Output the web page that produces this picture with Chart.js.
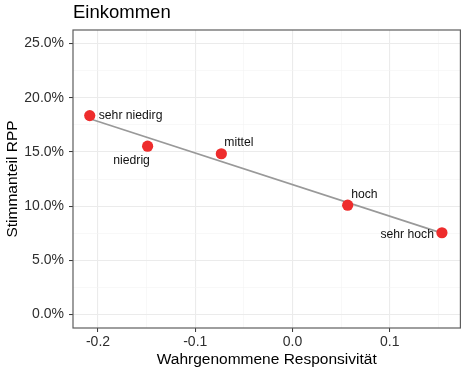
<!DOCTYPE html>
<html>
<head>
<meta charset="UTF-8">
<title>Einkommen</title>
<script src="https://cdn.jsdelivr.net/npm/chart.js@4.4.0/dist/chart.umd.min.js"></script>
<style>
body{
	margin: 0;
	background-color: #ffffff;
}
#wrap{
	width: 466px;
	height: 369px;
}
</style>
</head>
<body>
<div id="wrap"><canvas id="myChart" width="466" height="369"></canvas></div>
<script>
// Gruppen, Responsivität (x) und Stimmanteil RPP (y)
const groups = ['sehr niedirg', 'niedrig', 'mittel', 'hoch', 'sehr hoch'];
const responsivity = [-0.2085, -0.149, -0.0732, 0.0567, 0.1536];
const voteShare = [0.1835, 0.1553, 0.1483, 0.1008, 0.0754];

// Regressionsgerade: Anfangs- und Endpunkt
const trendX = [-0.2085, 0.1536];
const trendY = [0.1806, 0.0750];

// Achsenbeschriftungen (jeder zweite Tick ist eine Hilfslinie)
const xTickValues = [-0.2, -0.15, -0.1, -0.05, 0.0, 0.05, 0.1, 0.15];
const yTickValues = [0, 0.025, 0.05, 0.075, 0.10, 0.125, 0.15, 0.175, 0.20, 0.225, 0.25];

// Lage der Beschriftung relativ zum Punkt
const labelPos = [
	{dx: 9, dy: 0, align: 'left'},
	{dx: -16, dy: 14, align: 'center'},
	{dx: 3, dy: -11, align: 'left'},
	{dx: 3.5, dy: -11, align: 'left'},
	{dx: -8, dy: 1.5, align: 'right'}
];

const FONT = '"Liberation Sans", Arial, sans-serif';

const points = responsivity.map((x, i) => ({x: x, y: voteShare[i]}));
const trend = trendX.map((x, i) => ({x: x, y: trendY[i]}));

// Titel, Rahmen und Punktbeschriftungen
const decor = {
	id: 'decor',
	afterDatasetsDraw(chart) {
		const ctx = chart.ctx;
		const a = chart.chartArea;
		ctx.save();
		ctx.strokeStyle = '#5e5e5e';
		ctx.lineWidth = 1.2;
		ctx.strokeRect(a.left, a.top, a.right - a.left, a.bottom - a.top);

		ctx.fillStyle = '#111111';
		ctx.font = '12.2px ' + FONT;
		ctx.textBaseline = 'middle';
		const meta = chart.getDatasetMeta(1);
		meta.data.forEach((el, i) => {
			const p = labelPos[i];
			ctx.textAlign = p.align;
			ctx.fillText(groups[i], el.x + p.dx, el.y + p.dy);
		});

		ctx.fillStyle = '#000000';
		ctx.font = '18.5px ' + FONT;
		ctx.textAlign = 'left';
		ctx.textBaseline = 'alphabetic';
		ctx.fillText('Einkommen', 73, 18);
		ctx.restore();
	}
};

const gridColor = c => (c.index % 2 == 0 ? '#ebebeb' : '#f4f4f4');
const gridWidth = c => (c.index % 2 == 0 ? 1.1 : 0.6);
const tickColor = c => (c.index % 2 == 0 ? '#333333' : 'rgba(0,0,0,0)');

const ctx = document.getElementById('myChart').getContext('2d');
const chart = new Chart(ctx, {
	type: 'scatter',
	data: {
		datasets: [{
			type: 'line',
			data: trend,
			borderColor: '#999999',
			borderWidth: 1.7,
			pointRadius: 0,
			fill: false,
			order: 1
		}, {
			type: 'scatter',
			data: points,
			backgroundColor: '#ee2c2c',
			borderColor: '#ee2c2c',
			pointRadius: 5.6,
			pointBorderWidth: 0,
			order: 0
		}]
	},
	options: {
		responsive: false,
		animation: false,
		layout: {padding: {left: 0, right: 1, top: 30, bottom: 0}},
		plugins: {
			legend: {display: false},
			tooltip: {enabled: false}
		},
		scales: {
			x: {
				type: 'linear',
				min: -0.2257,
				max: 0.1726,
				afterBuildTicks: s => { s.ticks = xTickValues.map(v => ({value: v})); },
				afterFit: s => { s.height = 41; },
				border: {display: false},
				grid: {color: gridColor, lineWidth: gridWidth, drawTicks: true, tickLength: 4, tickColor: tickColor, tickWidth: 1},
				ticks: {
					autoSkip: false,
					maxRotation: 0,
					padding: 2,
					color: '#2e2e2e',
					font: {family: FONT, size: 14},
					callback: (v, i) => (i % 2 == 0 ? Number(v).toFixed(1) : '')
				},
				title: {
					display: true,
					text: 'Wahrgenommene Responsivität',
					color: '#000000',
					font: {family: FONT, size: 15.5},
					padding: {top: 0, bottom: 0}
				}
			},
			y: {
				type: 'linear',
				min: -0.0125,
				max: 0.2625,
				afterBuildTicks: s => { s.ticks = yTickValues.map(v => ({value: v})); },
				afterFit: s => { s.width = 73; },
				border: {display: false},
				grid: {color: gridColor, lineWidth: gridWidth, drawTicks: true, tickLength: 4, tickColor: tickColor, tickWidth: 1},
				ticks: {
					autoSkip: false,
					padding: 5,
					color: '#2e2e2e',
					font: {family: FONT, size: 14},
					callback: (v, i) => (i % 2 == 0 ? (v * 100).toFixed(1) + '%' : '')
				},
				title: {
					display: true,
					text: 'Stimmanteil RPP',
					color: '#000000',
					font: {family: FONT, size: 15.5},
					padding: {top: 3, bottom: 0}
				}
			}
		}
	},
	plugins: [decor]
});
</script>
</body>
</html>
